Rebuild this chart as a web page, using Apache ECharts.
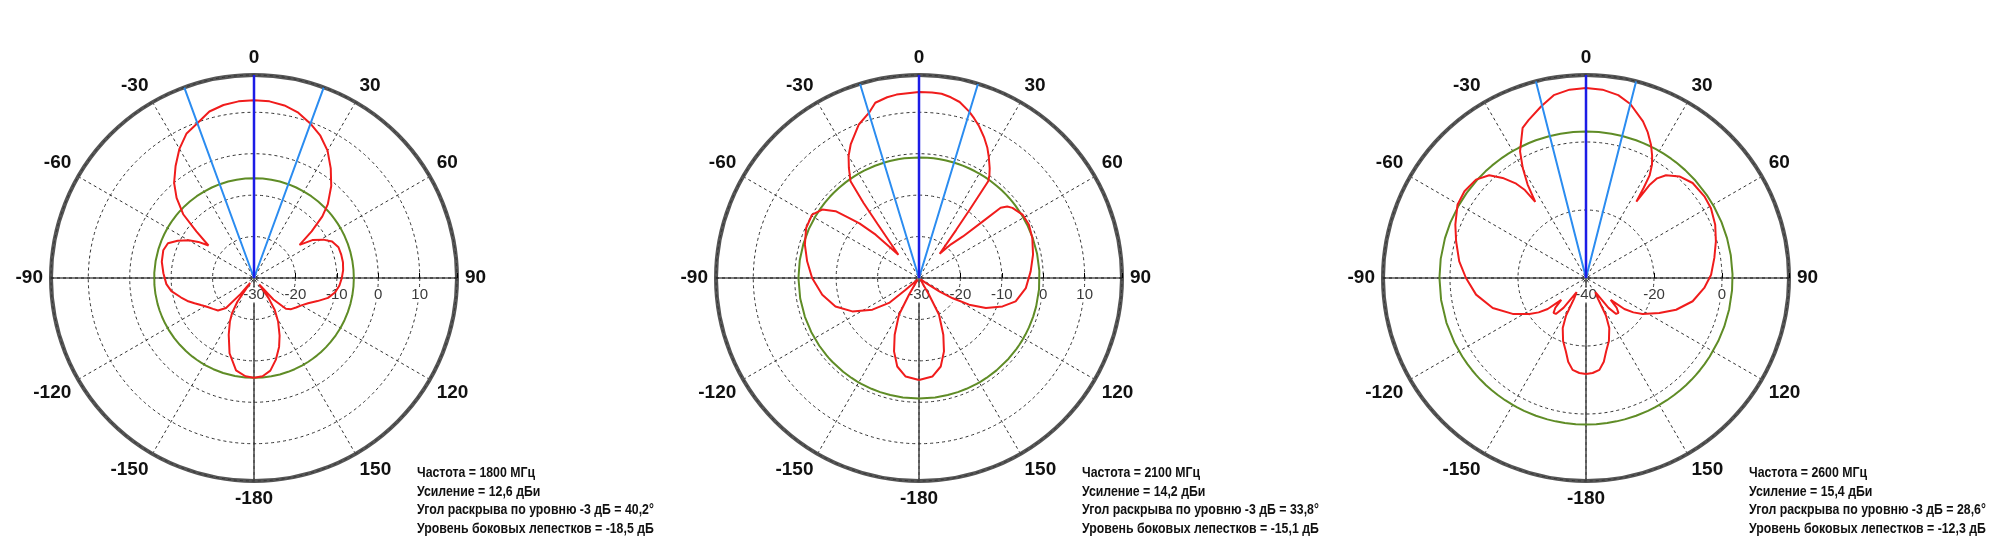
<!DOCTYPE html>
<html>
<head>
<meta charset="utf-8">
<script src="https://cdn.jsdelivr.net/npm/echarts@6/dist/echarts.min.js"></script>
<style>
html,body{margin:0;padding:0;background:#fff;}
#chart{width:2000px;height:557px;}
</style>
</head>
<body>
<div id="chart"></div>
<script>
// ---------- DATA ----------
// Angles in degrees (0 = forward, clockwise positive), gains in dBi
const angles1800 = [-180,-175,-169,-162,-156,-151,-148,-145,-142,-140,-137,-132,-127,-122,-117,-113,-109,-105,-99,-94,-87,-80,-73,-68,-64,-60,-57,-54.5,-51,-48,-44,-40,-35,-30,-25,-20,-15,-10,-5,0,5,10,15,20,25,30,35,40,45,48,51,54,57,61,65,70,75,80,85,90,95,100,105,110,115,120,125,130,134,138,141,144,147,151,156,160,165,170,175,180];
const gain1800   = [-5.9,-6.2,-7.3,-10.9,-15.0,-18.0,-20.0,-23.0,-28.5,-25.0,-20.1,-18.3,-17.6,-16.8,-15.6,-14.4,-13.0,-11.8,-9.8,-8.8,-8.1,-7.4,-7.1,-7.6,-9.5,-11.8,-14.0,-16.5,-12.1,-7.0,-3.1,0.0,3.0,6.0,8.5,9.8,11.6,12.4,12.8,12.9,12.8,12.3,11.3,9.7,7.9,5.5,2.3,-1.0,-4.8,-7.8,-12.1,-16.4,-13.2,-10.9,-9.2,-8.3,-8.2,-8.2,-8.4,-8.8,-9.3,-10.1,-11.5,-13.7,-15.6,-16.8,-17.6,-18.3,-19.3,-23.0,-28.0,-24.0,-20.8,-18.0,-14.8,-12.3,-9.6,-7.3,-6.2,-5.9];

const angles2100 = [-180,-172.3,-166.2,-161.2,-156.8,-151.4,-149,-146,-141,-134,-131.5,-129.8,-124.2,-116.6,-108.8,-99.8,-90,-81.5,-73.7,-66.1,-59.3,-54.7,-51.3,-49.4,-47.5,-45,-41.5,-37.5,-36.5,-35.3,-32.5,-30,-27.1,-21.4,-16.6,-14,-10,-7,0,4,7,10,13,16.7,19,21.6,25,27.7,30,32.8,34.5,35.6,36.6,37.7,40.4,43.5,46.6,48.4,49.3,51,53.1,58.5,64,70.6,78.4,86.6,95.4,103.6,108.8,114.2,118,121,123.5,126,132,140,146,149,151.4,156.8,161.2,166.2,172.3,180];
const gain2100   = [-5.4,-6.0,-8.0,-11.3,-15.1,-19.9,-25.3,-28.5,-29.5,-29.0,-25.7,-20.6,-16.4,-12.0,-8.7,-6.3,-4.2,-2.7,-1.3,-0.2,0.0,-1.4,-4.2,-7.7,-10.5,-15.2,-22.5,-13.5,-7.5,-1.4,1.5,4.0,6.2,9.8,11.8,13.6,14.3,14.6,14.9,14.9,14.8,14.3,13.6,12.0,10.8,9.4,7.3,5.5,3.7,1.5,0.0,-1.3,-9.5,-15.3,-22.3,-18.8,-15.4,-9.6,-4.0,-2.6,-1.8,-0.7,-0.5,-1.0,-1.9,-3.0,-4.1,-6.0,-8.7,-12.3,-16.3,-20.5,-24.0,-28.0,-29.5,-29.5,-28.5,-25.3,-19.9,-15.1,-11.3,-8.0,-6.0,-5.4];

const angles2600 = [-180,-176,-171.7,-168,-164.7,-160,-155,-152,-150,-146.5,-143,-140,-137,-134,-131.5,-129,-126,-122.4,-116.1,-107.8,-98.6,-90,-82.5,-74.2,-67.8,-60.3,-54.5,-48.2,-43.3,-39.8,-36.5,-34.8,-33.7,-32,-29.9,-27.5,-22.9,-20,-14.6,-10,-5,0,5,10,14.3,20,23,26,28.3,30.2,31.8,32.6,33.4,34.3,35.5,37.9,42.6,48.3,55.4,60.8,67.6,74.2,81.1,88.5,94.8,102.3,109.4,115.5,122.4,126,129,131.5,134,137,140,143,146.5,150,152,155,160,164.7,168,171.7,176,180];
const gain2600   = [-11.8,-12.0,-12.7,-14.8,-17.6,-20.3,-23.8,-27.5,-33.0,-35.0,-29.0,-26.2,-26.0,-27.5,-30.3,-25.5,-22.8,-20.3,-16.0,-11.2,-7.3,-4.7,-2.4,-0.3,1.5,3.5,3.9,3.4,1.5,-1.7,-5.5,-8.5,-13.1,-7.6,-2.7,2.0,7.9,9.4,12.2,14.6,15.6,15.9,15.6,14.6,12.8,9.0,6.5,3.6,1.0,-1.4,-4.5,-8.5,-13.1,-7.0,-4.0,-1.7,0.6,2.0,2.3,2.1,1.1,-0.3,-1.8,-3.2,-5.1,-7.9,-11.9,-16.1,-20.3,-22.8,-25.5,-30.3,-27.5,-26.0,-26.2,-29.0,-35.0,-33.0,-27.5,-23.8,-20.3,-17.6,-14.8,-12.7,-12.0,-11.8];

// Radial scale of each diagram (dB)
const radiusMin  = [-30, -30, -40];
const radiusMax  = [19, 19, 19.7];
const radiusStep = [10, 10, 20];

// Annotations
const frequencyMHz   = [1800, 2100, 2600];
const gainText       = ['12,6', '14,2', '15,4'];
const beamWidthDeg   = [40.2, 33.8, 28.6];
const sideLobeText   = ['-18,5', '-15,1', '-12,3'];
const sideLobeRefDb  = [-5.9, -0.9, 3.1];   // green ring level

// ---------- LAYOUT / STYLE ----------
const centersX = [254, 919, 1586];
const centerY = 278;
const outerRadius = 203;
const sansFont = '"Liberation Sans", Arial, sans-serif';

const patterns = [
  {angles: angles1800, gains: gain1800},
  {angles: angles2100, gains: gain2100},
  {angles: angles2600, gains: gain2600}
];

// angle axis runs clockwise from the right (startAngle 0) so the radius axis lies on +90°
function toV(deg) { return ((deg - 90) % 360 + 360) % 360; }
function angleLabel(v) {
  let t = (v + 90) % 360;
  if (t > 180) t -= 360;
  if (t === 180) t = -180;
  return String(t);
}

const polar = [], angleAxis = [], radiusAxis = [], series = [], graphic = [];

for (let i = 0; i < 3; i++) {
  const rMin = radiusMin[i], rMax = radiusMax[i], step = radiusStep[i];
  polar.push({center: [centersX[i], centerY], radius: outerRadius});
  angleAxis.push({
    polarIndex: i, type: 'value', min: 0, max: 360, interval: 30,
    startAngle: 0, clockwise: true, z: 1,
    axisLine: {show: true, lineStyle: {color: '#555', width: 4}},
    axisTick: {show: false},
    axisLabel: {
      show: true, margin: 8, formatter: angleLabel,
      fontFamily: sansFont, fontWeight: 'bold', fontSize: 19, color: '#111'
    },
    splitLine: {show: true, lineStyle: {color: '#333', width: 1, type: [3, 3]}}
  });
  radiusAxis.push({
    polarIndex: i, type: 'value', min: rMin, max: rMax, interval: step, z: 3,
    axisLine: {show: false},
    axisTick: {show: true, length: 5, lineStyle: {color: '#000', width: 1}},
    axisLabel: {
      show: true, margin: -17, verticalAlign: 'middle',
      formatter: v => (Math.abs((v - rMin) % step) < 1e-6 && v < rMax - 0.5) ? String(v) : '',
      fontFamily: sansFont, fontSize: 15, color: '#3a3a3a',
      backgroundColor: '#fff', padding: [0, 1]
    },
    splitLine: {show: true, lineStyle: {color: '#333', width: 1, type: [3, 3]}}
  });

  const base = {type: 'line', coordinateSystem: 'polar', polarIndex: i, symbol: 'none',
                silent: true, animation: false};
  // horizontal axis line through the centre
  series.push(Object.assign({}, base, {
    z: 2, data: [[rMax, toV(-90)], [rMin, toV(0)], [rMax, toV(90)]],
    lineStyle: {color: '#000', width: 1.2}
  }));
  // lower vertical line
  series.push(Object.assign({}, base, {
    z: 2, data: [[rMin, toV(180)], [rMax, toV(180)]],
    lineStyle: {color: '#444', width: 1.5}
  }));
  // side lobe reference ring
  series.push(Object.assign({}, base, {
    z: 4, data: patterns[i].angles.map(a => [sideLobeRefDb[i], toV(a)]),
    lineStyle: {color: '#5f8c26', width: 2}
  }));
  // radiation pattern
  series.push(Object.assign({}, base, {
    z: 5, data: patterns[i].angles.map((a, k) => [patterns[i].gains[k], toV(a)]),
    lineStyle: {color: '#f01c1c', width: 2}
  }));
  // -3 dB beam edges
  const hb = beamWidthDeg[i] / 2;
  series.push(Object.assign({}, base, {
    z: 6, data: [[rMax, toV(-hb)], [rMin, toV(0)], [rMax, toV(hb)]],
    lineStyle: {color: '#2b8cf0', width: 2}
  }));
  // boresight
  series.push(Object.assign({}, base, {
    z: 7, data: [[rMin, toV(0)], [rMax, toV(0)]],
    lineStyle: {color: '#1c1ce6', width: 2.5}
  }));

  graphic.push({
    type: 'text', x: centersX[i] + 163, y: 464, scaleX: 0.88, z: 10,
    style: {
      text: [
        'Частота = ' + frequencyMHz[i] + ' МГц',
        'Усиление = ' + gainText[i] + ' дБи',
        'Угол раскрыва по уровню -3 дБ = ' + String(beamWidthDeg[i]).replace('.', ',') + '°',
        'Уровень боковых лепестков = ' + sideLobeText[i] + ' дБ'
      ].join('\n'),
      font: 'bold 14px ' + sansFont, lineHeight: 18.6, fill: '#111',
      textVerticalAlign: 'top', verticalAlign: 'top'
    }
  });
}

const chart = echarts.init(document.getElementById('chart'), null, {renderer: 'canvas'});
chart.setOption({
  animation: false,
  backgroundColor: '#fff',
  graphic: graphic,
  polar: polar,
  angleAxis: angleAxis,
  radiusAxis: radiusAxis,
  series: series
});
</script>
</body>
</html>
